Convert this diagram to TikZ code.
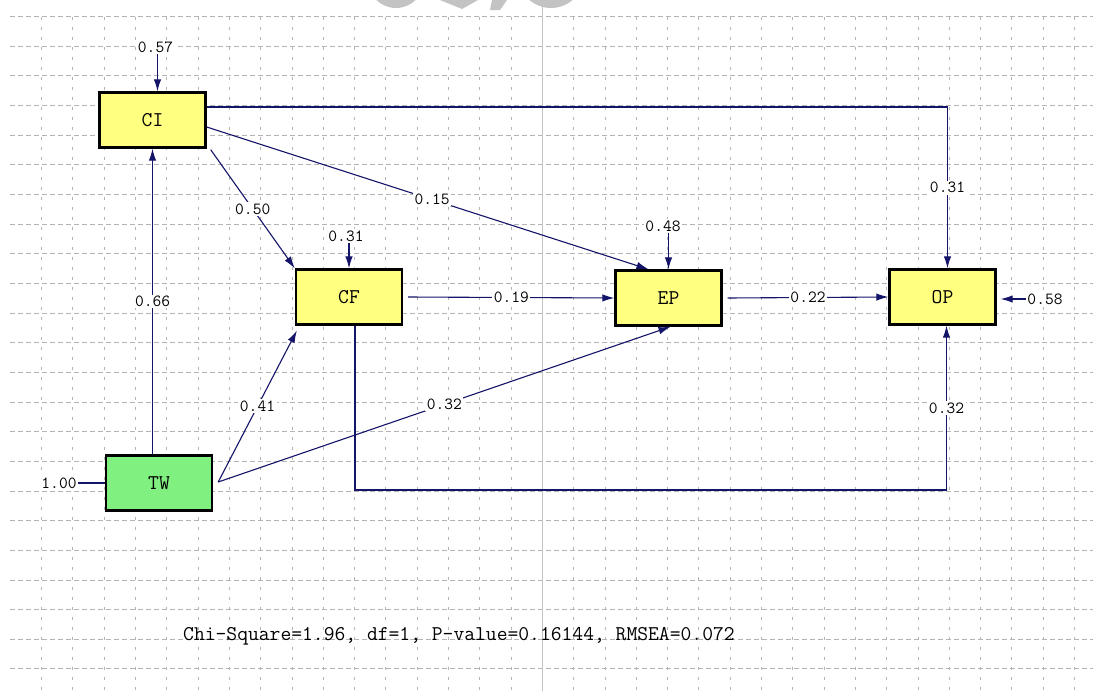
\documentclass[tikz,border=0pt]{standalone}
\usepackage{fontspec}
\usetikzlibrary{arrows.meta,calc}
\definecolor{boxyellow}{RGB}{255,255,128}
\definecolor{boxgreen}{RGB}{128,240,128}
\definecolor{arrnavy}{RGB}{20,20,105}
\definecolor{gridgray}{RGB}{180,180,180}
\definecolor{wmgray}{RGB}{195,195,195}
\begin{document}
\begin{tikzpicture}[x=1pt,y=-1pt,
  var/.style={draw=black,line width=2.4pt,minimum width=106pt,minimum height=55pt,inner sep=0pt,font=\ttfamily\fontsize{21}{21}\selectfont},
  yvar/.style={var,fill=boxyellow},
  gvar/.style={var,fill=boxgreen},
  causal/.style={draw=arrnavy,line width=1.1pt,-{Latex[length=12pt,width=7.5pt]}},
  plainline/.style={draw=arrnavy,line width=1.1pt},
  coef/.style={fill=white,inner sep=1.5pt,font=\ttfamily\fontsize{17}{17}\selectfont},
  gridh/.style={draw=gridgray,line width=0.7pt,dash pattern=on 5pt off 3pt},
  gridv/.style={draw=gridgray,line width=0.7pt,dash pattern=on 3pt off 7pt},
  fitstat/.style={font=\ttfamily\fontsize{21}{21}\selectfont,inner sep=0pt,anchor=west}
]
\useasboundingbox (0,0) rectangle (1093,691);
\fill[white] (0,0) rectangle (1093,691);
% grid
\foreach \k in {0,...,22} \draw[gridh] (10,{16.5+29.65*\k}) -- (1093,{16.5+29.65*\k});
\foreach \k in {0,...,33} \draw[gridv] ({41.5+31.3*\k},16.5) -- ({41.5+31.3*\k},691);
% watermark remnants
\fill[wmgray] (551,-25) circle (33);
\fill[wmgray] (396,-20) circle (28);
\fill[wmgray] (440,0) -- (478,0) -- (462,9) -- cycle;
\fill[wmgray] (492,0) -- (507,0) -- (500,10) -- (490,10) -- cycle;
\draw[wmgray,line width=0.8pt] (542,0) -- (542,691);
% variables
\node[yvar] (CI) at (152.5,120) {CI};
\node[yvar] (CF) at (349,297) {CF};
\node[yvar] (EP) at (668.5,298) {EP};
\node[yvar] (OP) at (942.5,297) {OP};
\node[gvar] (TW) at (159,483) {TW};
% helper coordinates
\coordinate (base) at (0,490);
\coordinate (cfl) at ($(CF.south)+(6,0)$);
\coordinate (opl) at ($(OP.south)+(4,0)$);
\coordinate (opt) at ($(OP.north)+(5,0)$);
\coordinate (cin) at ($(CI.north)+(5,0)$);
% structural paths
\draw[causal] ($(CI.east)+(0,-13)$) -| (opt) node[coef,pos=0.75]{0.31};
\draw[causal] ($(CI.east)+(0,7)$) -- ($(EP.north)+(-20,0)$) node[coef,pos=0.51]{0.15};
\draw[causal] ($(CI.south east)+(4,1)$) -- (CF.north west) node[coef,pos=0.5]{0.50};
\draw[causal] (TW.north -| CI.south) -- (CI.south) node[coef,pos=0.5]{0.66};
\draw[causal] ($(TW.east)+(5,-1)$) -- ($(CF.south west)+(2,5)$) node[coef,pos=0.5]{0.41};
\draw[causal] ($(TW.east)+(5,-1)$) -- ($(EP.south)+(2,0)$) node[coef,pos=0.5]{0.32};
\draw[causal] ($(CF.east)+(5,0)$) -- (EP.west) node[coef,pos=0.5]{0.19};
\draw[causal] ($(EP.east)+(5,0)$) -- (OP.west) node[coef,pos=0.5]{0.22};
\draw[causal] (cfl) -- (cfl |- base) -- (opl |- base) -- (opl) node[coef,pos=0.5]{0.32};
% error terms
\node[coef] (e57) at (155.5,47) {0.57};
\draw[causal] (e57.south -| cin) -- (cin);
\node[coef] (e31) at (346,236) {0.31};
\draw[causal] (e31.south -| CF.north) -- (CF.north);
\node[coef] (e48) at (663,226) {0.48};
\draw[causal] (e48.south -| EP.north) -- (EP.north);
\node[coef] (e58) at (1045,299) {0.58};
\draw[causal] (e58.west) -- ($(e58.west -| OP.east)+(4,0)$);
\node[coef] (e100) at (59,483) {1.00};
\draw[plainline] (e100.east) -- (TW.west);
% fit statistics
\node[fitstat] (fit) at (183,636) {Chi-Square=1.96, df=1, P-value=0.16144, RMSEA=0.072};
\end{tikzpicture}
\end{document}
